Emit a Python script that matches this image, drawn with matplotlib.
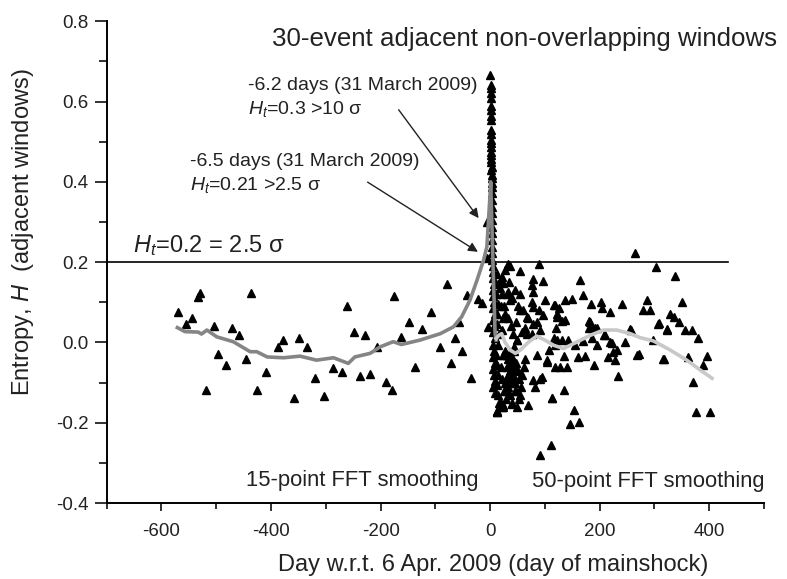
import numpy as np
import matplotlib.pyplot as plt

plt.rcParams['font.family'] = ['Liberation Sans', 'DejaVu Sans']
plt.rcParams['mathtext.fontset'] = 'custom'
plt.rcParams['mathtext.rm'] = 'Liberation Sans'
plt.rcParams['mathtext.it'] = 'Liberation Sans:italic'
plt.rcParams['axes.unicode_minus'] = False

# entropy points before the mainshock (day, H)
pre_day = [-569, -556, -544, -534, -530, -518, -504, -496, -483, -471, -458, -446,
           -437, -425, -409, -388, -378, -359, -349, -334, -319, -303, -287, -271,
           -261, -248, -237, -228, -219, -206, -191, -179, -175, -163, -148, -138,
           -124, -108, -92, -78, -72, -64, -57, -51, -43, -35, -23, -15, -4, -6.5, -6.2]
pre_H = [0.075, 0.046, 0.062, 0.113, 0.124, -0.119, 0.041, -0.029, -0.055, 0.037, 0.018, -0.042,
         0.124, -0.118, -0.073, -0.012, 0.007, -0.138, 0.011, -0.012, -0.088, -0.133, -0.064, -0.073,
         0.091, 0.026, -0.083, 0.018, -0.079, -0.011, -0.098, -0.118, 0.116, 0.014, 0.051, -0.061,
         0.033, 0.075, -0.012, 0.145, -0.051, 0.011, 0.05, -0.021, 0.118, -0.089, 0.109, 0.099, 0.039, 0.21, 0.30]

# entropy points after the mainshock (day, H)
post_day = [
    # spike column, first days
    0.5, 1.0, 1.2, 1.5, 0.8, 1.3, 1.7, 1.1, 1.9, 1.4, 1.6, 2.0, 1.8, 2.2, 1.5, 2.4, 1.9, 2.1,
    2.6, 2.3, 2.8, 2.5, 3.0, 2.7, 3.2, 2.9, 3.4, 3.1, 3.6, 3.3, 3.8, 3.5, 4.0, 3.7, 4.2,
    # column below threshold
    5, 6, 5, 7, 6, 5, 7, 6, 8, 5, 7, 6, 8, 6, 7, 5, 8, 6, 7, 9, 6, 8,
    12, 14, 11, 15, 13, 12, 16, 14, 11, 13, 15, 12, 14, 16, 12,
    20, 22, 19, 24, 21, 23, 20, 22, 25, 19, 21,
    # dense cluster, first two months
    28, 32, 30, 35, 38, 33, 27, 41, 36, 30, 44, 39, 33, 47, 42, 29, 50, 45, 37, 53,
    31, 48, 40, 56, 34, 43, 58, 61, 46, 52, 26, 39, 64, 55, 49, 24, 39, 12,
    28, 30, 35, 26, 40, 45, 32, 38, 50, 42, 48, 55, 60, 36, 44, 18, 27,
    33, 54, 89, 79, 97, 76, 79, 100, 76, 79, 70, 64, 58, 85, 91, 76, 49, 21, 24, 33, 37,
    113, 70, 39, 24, 12, 94, 79, 85, 104, 119, 107, 119,
    # later windows
    55, 67, 90, 97, 79, 49, 67, 116, 122, 137, 149, 164, 170, 184, 202, 204, 219, 241,
    279, 291, 286, 350, 329, 335, 344, 307, 323, 356, 368, 380, 257, 247, 298, 271,
    317, 362, 396, 388, 370, 376, 402, 234, 228, 225, 231, 216, 219, 210, 195, 189,
    174, 161, 183, 180, 192, 143, 131, 122, 128, 140, 134, 113, 153, 146, 163, 111,
    91, 82, 104, 91, 122, 119, 125, 131, 137, 120, 181, 186, 195, 256, 207, 116,
    155, 222, 134, 186, 170, 265, 303, 337, 309, 323, 268, 315]
post_H = [
    0.665, 0.640, 0.633, 0.620, 0.608, 0.590, 0.578, 0.565, 0.555, 0.528, 0.520, 0.505,
    0.496, 0.486, 0.475, 0.466, 0.458, 0.449, 0.438, 0.429, 0.418, 0.409, 0.398, 0.386,
    0.372, 0.356, 0.338, 0.322, 0.306, 0.288, 0.272, 0.256, 0.238, 0.222, 0.206,
    0.19, 0.175, 0.16, 0.145, 0.13, 0.115, 0.10, 0.085, 0.07, 0.055, 0.04, 0.025, 0.01,
    -0.005, -0.02, -0.035, -0.05, -0.065, -0.08, -0.095, -0.11, -0.125,
    0.17, 0.145, 0.12, 0.095, 0.07, 0.045, 0.02, -0.005, -0.03, -0.055, -0.08, -0.105,
    -0.13, -0.15, -0.17,
    0.15, 0.12, 0.09, 0.06, 0.03, -0.03, -0.06, -0.09, -0.12, -0.15, -0.16,
    -0.02, -0.04, -0.06, -0.03, -0.05, -0.08, -0.10, -0.04, -0.07, -0.12, -0.06, -0.09,
    -0.11, -0.05, -0.08, -0.14, -0.07, -0.10, -0.13, -0.09, -0.03, -0.12, -0.15, -0.11,
    -0.09, -0.02, -0.08, -0.06, -0.12, -0.14, -0.03, -0.10, -0.04, -0.13, -0.16, -0.155,
    -0.07, -0.173,
    0.18, 0.12, 0.15, 0.09, 0.11, 0.13, 0.06, 0.04, 0.09, 0.02, 0.05, 0.12, 0.08, 0.19,
    -0.01, 0.135, 0.07,
    0.195, 0.178, 0.195, 0.159, 0.153, 0.143, 0.126, 0.107, 0.101, 0.089, 0.06, 0.035,
    0.026, 0.051, 0.031, 0.022, 0.006, 0.163, 0.147, 0.126, 0.105,
    -0.139, -0.156, -0.153, -0.16, -0.173, -0.086, -0.094, -0.032, -0.048, -0.061, -0.019, -0.007,
    0.08, 0.064, 0.08, 0.068, 0.047, 0.006, 0.022, 0.093, 0.072, 0.105, 0.109, 0.155,
    0.118, 0.097, 0.101, 0.085, 0.076, 0.097, 0.082, 0.082, 0.107, 0.101, 0.072, 0.064,
    0.051, 0.047, 0.032, 0.031, 0.031, 0.01, 0.032, 0.001, 0.007, -0.029, -0.042, -0.036,
    -0.034, -0.056, -0.098, -0.174, -0.174, -0.084, -0.044, -0.023, -0.019, -0.036, 0.001,
    0.018, -0.007, -0.056, -0.034, -0.037, 0.051, 0.035, 0.035, 0.006, 0.006, 0.006,
    -0.061, -0.061, -0.119, -0.139, -0.168, -0.203, -0.197, -0.256, -0.279, -0.11, -0.044,
    -0.09, 0.064, 0.093, 0.085, 0.054, 0.057, 0.037, 0.054, 0.037, 0.037, 0.033, 0.018,
    0.01, -0.007, -0.001, -0.034, 0.012, 0.004, 0.223, 0.187, 0.165, 0.049, 0.033,
    -0.03, -0.042]

# 15-point FFT smoothing (dark grey)
sm15_day = [-571, -557, -533, -527, -517, -499, -469, -438, -426, -407, -377, -347, -317,
            -286, -259, -247, -219, -201, -177, -162, -128, -91, -67, -52, -37, -24, -12,
            -6, -3, 0, 1, 5, 9, 11]
sm15_H = [0.037, 0.027, 0.026, 0.021, 0.031, 0.014, 0.002, -0.023, -0.023, -0.036, -0.038,
          -0.034, -0.044, -0.038, -0.052, -0.036, -0.027, -0.011, 0.002, -0.005, 0.006, 0.022,
          0.039, 0.064, 0.105, 0.155, 0.205, 0.238, 0.304, 0.371, 0.40, 0.205, 0.023, 0.006]

# 50-point FFT smoothing (light grey)
sm50_day = [11, 16, 21, 27, 37, 46, 55, 70, 85, 100, 116, 134, 158, 183, 207, 231, 256,
            274, 298, 329, 359, 384, 405]
sm50_H = [0.01, 0.018, 0.022, 0.001, -0.019, -0.027, -0.019, 0.001, 0.016, 0.006, -0.007,
          -0.015, 0.001, 0.018, 0.031, 0.031, 0.022, 0.012, 0.004, -0.019, -0.044, -0.069,
          -0.089]

fig = plt.figure(figsize=(7.87, 5.79), dpi=100)
ax = fig.add_axes([0.1356, 0.131, 0.8352, 0.8324])

ax.plot(pre_day, pre_H, '^', color='black', markersize=5.5, zorder=3)
ax.plot(post_day, post_H, '^', color='black', markersize=5.5, zorder=3)
ax.plot(sm15_day, sm15_H, color='#858585', lw=2.6, zorder=4)
ax.plot(sm50_day, sm50_H, color='#c8c8c8', lw=2.6, zorder=4)

ax.plot([-700, 435], [0.2, 0.2], color='black', lw=1.2, zorder=2)

ax.set_xlim(-700, 500)
ax.set_ylim(-0.4, 0.8)
ax.set_xticks([-600, -400, -200, 0, 200, 400])
ax.set_xticks(np.arange(-700, 501, 100), minor=True)
ax.set_yticks(np.arange(-0.4, 0.81, 0.2))
ax.set_yticks(np.arange(-0.3, 0.8, 0.2), minor=True)
ax.set_yticklabels(['-0.4', '-0.2', '0.0', '0.2', '0.4', '0.6', '0.8'])
ax.spines['top'].set_visible(False)
ax.spines['right'].set_visible(False)
for s in ['left', 'bottom']:
    ax.spines[s].set_linewidth(1.4)
ax.tick_params(which='both', direction='out', width=1.3, labelsize=13.5, colors='#222222')
ax.tick_params(axis='x', which='major', length=6, pad=8)
ax.tick_params(axis='x', which='minor', length=4)
ax.tick_params(axis='y', which='major', length=9, pad=4)
ax.tick_params(axis='y', which='minor', length=6)

fig.text(493.5 / 787, 1 - 565 / 579, 'Day w.r.t. 6 Apr. 2009 (day of mainshock)',
         ha='center', va='center', fontsize=17, color='#222222')
fig.text(23 / 787, 1 - 232 / 579, 'Entropy, $H$  (adjacent windows)', rotation=90,
         ha='center', va='center', fontsize=17, color='#222222')

ax.text(-398, 0.737, '30-event adjacent non-overlapping windows', fontsize=18.6,
        ha='left', va='baseline', color='#222222')
ax.text(-442, 0.628, '-6.2 days (31 March 2009)', fontsize=14, va='baseline', color='#222222')
ax.text(-442, 0.570, '$H_t$=0.3 >10 σ', fontsize=14, va='baseline', color='#222222')
ax.text(-548, 0.439, '-6.5 days (31 March 2009)', fontsize=14, va='baseline', color='#222222')
ax.text(-548, 0.379, '$H_t$=0.21 >2.5 σ', fontsize=14, va='baseline', color='#222222')
ax.text(-652, 0.225, '$H_t$=0.2 = 2.5 σ', fontsize=17, va='baseline', color='#222222')
ax.text(-445, -0.357, '15-point FFT smoothing', fontsize=15.8, va='baseline', color='#222222')
ax.text(77, -0.36, '50-point FFT smoothing', fontsize=15.8, va='baseline', color='#222222')

arrow = dict(arrowstyle='-|>', color='#222222', lw=1.0, mutation_scale=14)
ax.annotate('', xy=(-18, 0.304), xytext=(-170, 0.585), arrowprops=arrow)
ax.annotate('', xy=(-18, 0.222), xytext=(-228, 0.403), arrowprops=arrow)

fig.savefig('out.png', dpi=100)
